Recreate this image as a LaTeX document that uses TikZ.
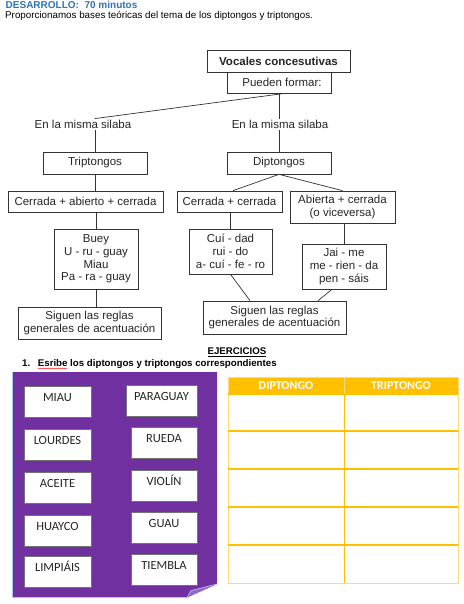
\documentclass[tikz,border=0pt]{standalone}
\usepackage{fontspec}
\setmainfont{Liberation Sans}
\newfontfamily\calib{Carlito}
\usetikzlibrary{decorations.pathmorphing}
\definecolor{titleblue}{RGB}{46,116,182}
\definecolor{panelpurple}{RGB}{112,48,160}
\definecolor{foldpurple}{RGB}{150,105,200}
\definecolor{foldedge}{RGB}{170,200,235}
\definecolor{gold}{RGB}{255,192,0}
\definecolor{lightgold}{RGB}{255,220,120}
\tikzset{
  dfont/.style={font=\fontsize{11.5}{12.7}\selectfont, text=black!85},
  dbox/.style={dfont, draw=black!80, line width=0.7pt, inner sep=1pt, align=center},
  dlabel/.style={dfont, inner sep=1.5pt},
  conn/.style={draw=black!80, line width=0.7pt},
  wbox/.style={draw=black!55, fill=white, line width=0.5pt, font=\calib\fontsize{12.5}{14}\selectfont,
    text=black!85, text height=8pt, text depth=9pt, inner sep=0pt, minimum height=31pt},
  hdr/.style={font=\calib\bfseries\fontsize{12}{14}\selectfont, text=white, inner sep=0pt},
}
\begin{document}
\begin{tikzpicture}[x=1pt,y=-1pt]
\useasboundingbox (0,0) rectangle (463,604);
\fill[white] (0,0) rectangle (463,604);

% header text
\node[anchor=base west, inner sep=0, font=\bfseries\fontsize{10}{11}\selectfont, text=titleblue] (title) at (5.5,8.5) {DESARROLLO:\ \ 70 minutos};
\node[anchor=base west, inner sep=0, font=\fontsize{9.8}{11}\selectfont] (intro) at (5,19) {Proporcionamos bases teóricas del tema de los diptongos y triptongos.};

% concept map
\node[dbox, font=\bfseries\fontsize{11.5}{12.7}\selectfont, minimum width=143pt, minimum height=22pt] (voc) at (278.5,61) {Vocales concesutivas};
\node[dbox, minimum width=104pt, minimum height=21pt] (pue) at (279,82.5) {\hspace{6pt}Pueden formar:};
\node[dlabel] (lab1) at (83,124.5) {En la misma silaba};
\node[dlabel] (lab2) at (280,124.5) {En la misma silaba};
\node[dbox, minimum width=104pt, minimum height=22pt] (tri) at (95,163) {Triptongos};
\node[dbox, minimum width=104pt, minimum height=22pt] (dip) at (279,163) {Diptongos};
\node[dbox, minimum width=155pt, minimum height=21pt] (cac) at (85.5,201.5) {Cerrada + abierto + cerrada};
\node[dbox, minimum width=105pt, minimum height=21pt] (cc) at (229.5,201.5) {Cerrada + cerrada};
\node[dbox, minimum width=105pt, minimum height=32pt] (ac) at (342.5,207) {Abierta + cerrada\\(o viceversa)};
\node[dbox, minimum width=84pt, minimum height=60pt] (buey) at (96,259) {Buey\\U - ru - guay\\Miau\\Pa - ra - guay};
\node[dbox, minimum width=83pt, minimum height=45pt] (cui) at (230.5,251.5) {Cuí - dad\\rui - do\\a- cuí - fe - ro};
\node[dbox, minimum width=84pt, minimum height=45pt] (jai) at (344,266.5) {Jai - me\\me - rien - da\\pen - sáis};
\node[dbox, minimum width=143pt, minimum height=32pt] (sig1) at (89.5,323) {Siguen las reglas\\generales de acentuación};
\node[dbox, minimum width=143pt, minimum height=33pt] (sig2) at (274.5,317.5) {Siguen las reglas\\generales de acentuación};

\draw[conn] ([xshift=6pt]pue.south) -- (lab1.north -| tri.north);
\draw[conn] (lab1.south -| tri.north) -- (tri.north);
\draw[conn] (pue.south) -- (lab2.north -| pue.south);
\draw[conn] (lab2.south -| dip.north) -- (dip.north);
\draw[conn] (tri.south) -- (tri.south |- cac.north);
\draw[conn] (dip.south) -- ([xshift=3.5pt]cc.north);
\draw[conn] (dip.south) -- (ac.north);
\draw[conn] (buey.north |- cac.south) -- (buey.north);
\draw[conn] (cui.north |- cc.south) -- (cui.north);
\draw[conn] (jai.north |- ac.south) -- (jai.north);
\draw[conn] (buey.south) -- (buey.south |- sig1.north);
\draw[conn] (cui.south) -- ([xshift=-24.5pt]sig2.north);
\draw[conn] ([xshift=-12pt]jai.south) -- ([xshift=43.5pt]sig2.north);

% exercises heading
\node[anchor=base, inner sep=0, font=\bfseries\fontsize{9.7}{11}\selectfont] (ejer) at (237,354.7) {\underline{EJERCICIOS}};
\node[anchor=base west, inner sep=0, font=\bfseries\fontsize{9.7}{11}\selectfont] (num) at (22,366) {1.};
\node[anchor=base west, inner sep=0, font=\bfseries\fontsize{9.7}{11}\selectfont] (instr) at (37.7,366) {Esribe los diptongos y triptongos correspondientes};
\draw[red, line width=0.4pt, decorate, decoration={snake, amplitude=0.5pt, segment length=2pt}] (38,368.5) -- (67,368.5);

% purple panel
\fill[panelpurple] (12,372) -- (217,372) -- (217,584) -- (187,597.5) -- (12,597.5) -- cycle;
\draw[foldedge, line width=0.4pt] (12,372) -- (12,597.5) -- (187,597.5);
\fill[foldpurple] (217,584) -- (191,590.5) -- (187,597.5) -- cycle;
\draw[foldedge, line width=0.6pt] (187,597.5) -- (191,590.5) -- (217,584);

\node[wbox, minimum width=67pt] (w1) at (57.5,401.5) {MIAU};
\node[wbox, minimum width=67pt] (w2) at (57.5,444.5) {LOURDES};
\node[wbox, minimum width=67pt] (w3) at (57.5,487.5) {ACEITE};
\node[wbox, minimum width=67pt] (w4) at (57.5,531) {HUAYCO};
\node[wbox, minimum width=67pt] (w5) at (57.5,572) {LIMPIÁIS};
\node[wbox, minimum width=71pt] (w6) at (161.5,400.5) {PARAGUAY};
\node[wbox, minimum width=66pt] (w7) at (164,442.5) {RUEDA};
\node[wbox, minimum width=66pt] (w8) at (164,485.5) {VIOLÍN};
\node[wbox, minimum width=66pt] (w9) at (164,528) {GUAU};
\node[wbox, minimum width=66pt] (w10) at (164,569.5) {TIEMBLA};

% table
\fill[gold] (228,377) rectangle (458,394);
\draw[lightgold, line width=0.8pt] (228,377) rectangle (458,583);
\foreach \yy in {394,431,469,507,545} {
  \draw[gold, line width=1.3pt] (228,\yy) -- (458,\yy);
}
\draw[gold, line width=1pt] (344,394) -- (344,583);
\draw[lightgold, line width=0.8pt] (344,377) -- (344,394);
\node[hdr] (h1) at (286,385.5) {DIPTONGO};
\node[hdr] (h2) at (401,385.5) {TRIPTONGO};
\end{tikzpicture}
\end{document}
